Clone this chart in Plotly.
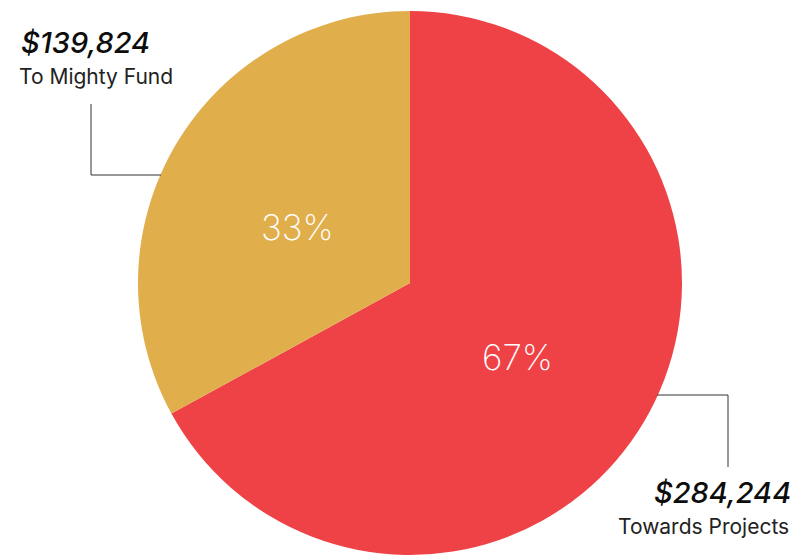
import plotly.graph_objects as go

labels = ["Towards Projects", "To Mighty Fund"]
values = [284244, 139824]
colors = ["#EE4247", "#E1AE4C"]

W, H = 798, 557
cx, cy, r = 410, 283, 272

total = sum(values)
pcts = [f"{round(100 * v / total)}%" for v in values]

fig = go.Figure(go.Pie(
    labels=labels,
    values=values,
    sort=False,
    direction="clockwise",
    rotation=0,
    marker=dict(colors=colors, line=dict(width=0)),
    textinfo="none",
    hoverinfo="label+value+percent",
    showlegend=False,
    domain=dict(x=[(cx - r) / W, (cx + r) / W], y=[1 - (cy + r) / H, 1 - (cy - r) / H]),
))

def px(x):
    return x / W

def py(y):
    return 1 - y / H

line_style = dict(color="#333333", width=1)
shapes = [
    dict(type="line", xref="paper", yref="paper", x0=px(91), y0=py(104), x1=px(91), y1=py(175), line=line_style),
    dict(type="line", xref="paper", yref="paper", x0=px(91), y0=py(175), x1=px(161), y1=py(175), line=line_style),
    dict(type="line", xref="paper", yref="paper", x0=px(657), y0=py(395), x1=px(728), y1=py(395), line=line_style),
    dict(type="line", xref="paper", yref="paper", x0=px(728), y0=py(395), x1=px(728), y1=py(467), line=line_style),
]

pct_font = dict(family="Inter", size=35, color="white", weight=200)
big_font = dict(family="Inter", size=29, color="#0d0d0d", weight=500, style="italic")
small_font = dict(family="Inter", size=21, color="#222222")

annotations = [
    dict(text=pcts[1], x=px(297), y=py(227), xref="paper", yref="paper",
         xanchor="center", yanchor="middle", showarrow=False, font=pct_font),
    dict(text=pcts[0], x=px(517), y=py(357), xref="paper", yref="paper",
         xanchor="center", yanchor="middle", showarrow=False, font=pct_font),
    dict(text=f"${values[1]:,}", x=px(19), y=py(42), xref="paper", yref="paper",
         xanchor="left", yanchor="middle", showarrow=False, font=big_font),
    dict(text=labels[1], x=px(17), y=py(76), xref="paper", yref="paper",
         xanchor="left", yanchor="middle", showarrow=False, font=small_font),
    dict(text=f"${values[0]:,}", x=px(793), y=py(492), xref="paper", yref="paper",
         xanchor="right", yanchor="middle", showarrow=False, font=big_font),
    dict(text=labels[0], x=px(791), y=py(526), xref="paper", yref="paper",
         xanchor="right", yanchor="middle", showarrow=False, font=small_font),
]

fig.update_layout(
    width=W, height=H,
    margin=dict(l=0, r=0, t=0, b=0),
    paper_bgcolor="white",
    plot_bgcolor="white",
    shapes=shapes,
    annotations=annotations,
)

fig.write_html("out.html")
